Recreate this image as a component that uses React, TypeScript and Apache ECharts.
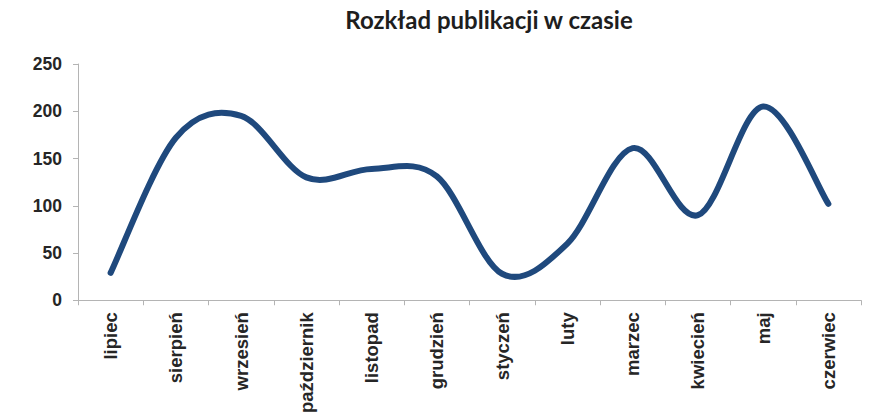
import React, { useEffect, useRef } from "react";
import * as echarts from "echarts";

const categories = [
  "lipiec", "sierpień", "wrzesień", "październik", "listopad", "grudzień",
  "styczeń", "luty", "marzec", "kwiecień", "maj", "czerwiec",
];
const values = [29, 172, 195, 130, 139, 131, 28, 60, 161, 90, 205, 102];
const yTicks = { min: 0, max: 250, interval: 50 };
const title = "Rozkład publikacji w czasie";

export default function App() {
  const ref = useRef<HTMLDivElement>(null);
  useEffect(() => {
    if (!ref.current) return;
    const chart = echarts.init(ref.current, undefined, { renderer: "svg" });
    const axisColor = "#b4b4b4";
    const textColor = "#262626";
    chart.setOption({
      animation: false,
      backgroundColor: "#ffffff",
      title: {
        text: title,
        left: 484,
        textAlign: "center",
        top: 2,
        textStyle: {
          fontFamily: "Lato",
          fontWeight: "bold",
          fontSize: 24,
          color: "#1e1e1e",
        },
      },
      grid: { left: 78, right: 9, top: 64, bottom: 115, containLabel: false },
      xAxis: {
        type: "category",
        data: categories,
        boundaryGap: true,
        axisLine: { show: true, lineStyle: { color: axisColor, width: 1 } },
        axisTick: { show: true, length: 5, lineStyle: { color: axisColor } },
        axisLabel: {
          rotate: 90,
          margin: 12,
          interval: 0,
          fontFamily: "Liberation Sans",
          fontWeight: "bold",
          fontSize: 18.5,
          color: textColor,
        },
        splitLine: { show: false },
      },
      yAxis: {
        type: "value",
        min: yTicks.min,
        max: yTicks.max,
        interval: yTicks.interval,
        axisLine: { show: true, lineStyle: { color: axisColor, width: 1 } },
        axisTick: { show: true, length: 5, lineStyle: { color: axisColor } },
        axisLabel: {
          margin: 16,
          fontFamily: "Liberation Sans",
          fontWeight: "bold",
          fontSize: 17.5,
          color: textColor,
        },
        splitLine: { show: false },
      },
      series: [
        {
          type: "custom",
          data: values.map((v, i) => [i, v]),
          encode: { x: 0, y: 1 },
          clip: false,
          renderItem: (params: any, api: any) => {
            if (params.dataIndex !== 0) return null;
            const pts = values.map((v, i) => api.coord([i, v]));
            let d = `M${pts[0][0]},${pts[0][1]}`;
            for (let i = 0; i < pts.length - 1; i++) {
              const p0 = pts[i - 1] || pts[i];
              const p1 = pts[i];
              const p2 = pts[i + 1];
              const p3 = pts[i + 2] || pts[i + 1];
              const c1x = p1[0] + (p2[0] - p0[0]) / 6;
              const c1y = p1[1] + (p2[1] - p0[1]) / 6;
              const c2x = p2[0] - (p3[0] - p1[0]) / 6;
              const c2y = p2[1] - (p3[1] - p1[1]) / 6;
              d += ` C${c1x},${c1y} ${c2x},${c2y} ${p2[0]},${p2[1]}`;
            }
            return {
              type: "path",
              shape: { pathData: d },
              style: {
                fill: "none",
                stroke: "#1F497D",
                lineWidth: 6,
                lineCap: "round",
                lineJoin: "round",
              },
            };
          },
        },
      ],
    });
    return () => chart.dispose();
  }, []);
  return (
    <div
      ref={ref}
      style={{ position: "absolute", left: 0, top: 0, width: 870, height: 416 }}
    />
  );
}
